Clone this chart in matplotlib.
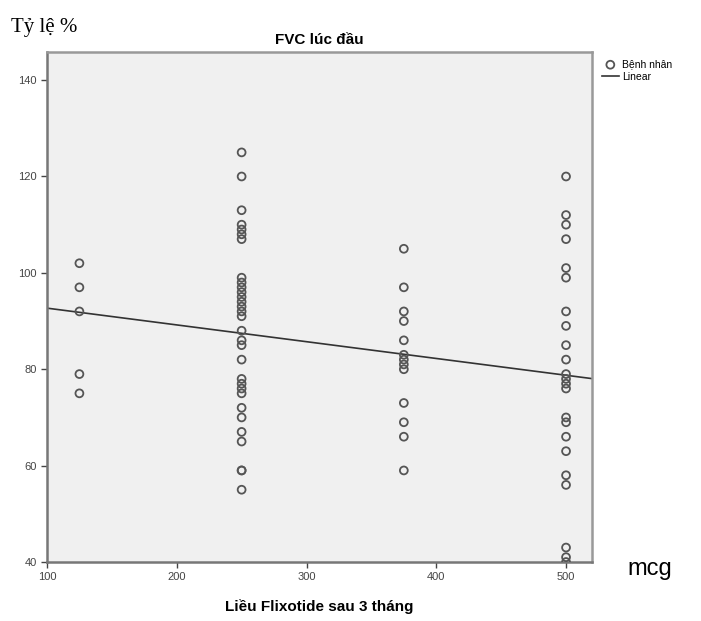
import matplotlib
matplotlib.use("Agg")
import matplotlib.pyplot as plt
import numpy as np

plt.rcParams["font.family"] = ["Liberation Sans", "DejaVu Sans"]

dose_125 = [102, 97, 92, 79, 75]
dose_250 = [125, 120, 113, 110, 109, 108, 107, 99, 98, 97, 96, 95, 94, 93, 92, 91,
            88, 86, 85, 82, 78, 77, 76, 75, 72, 70, 67, 65, 59, 59, 55]
dose_375 = [105, 97, 92, 90, 86, 83, 82, 81, 80, 73, 69, 66, 59]
dose_500 = [120, 112, 110, 107, 101, 99, 92, 89, 85, 82, 79, 78, 77, 76, 70, 69,
            66, 63, 58, 56, 43, 41, 40]

groups = {125: dose_125, 250: dose_250, 375: dose_375, 500: dose_500}
x = np.concatenate([[k] * len(v) for k, v in groups.items()]).astype(float)
y = np.concatenate([v for v in groups.values()]).astype(float)

xticks = [100, 200, 300, 400, 500]
yticks = [40, 60, 80, 100, 120, 140]

fig = plt.figure(figsize=(7.01, 6.21), dpi=100)
ax = fig.add_axes([0.067, 0.095, 0.7775, 0.821])
ax.set_facecolor("#f0f0f0")

ax.scatter(x, y, s=32, facecolors="none", edgecolors="#555555", linewidths=1.3,
           label="Bệnh nhân", zorder=3)
slope, intercept = np.polyfit(x, y, 1)
xl = np.array([100, 520])
ax.plot(xl, slope * xl + intercept, color="#333333", lw=1.2, label="Linear", zorder=2)

ax.set_xlim(100, 520)
ax.set_ylim(40, 145.8)
ax.set_xticks(xticks)
ax.set_yticks(yticks)
ax.tick_params(labelsize=8, colors="#444444", length=4, width=1)
for s in ["top", "right"]:
    ax.spines[s].set_color("#999999")
    ax.spines[s].set_linewidth(1.8)
for s in ["left", "bottom"]:
    ax.spines[s].set_color("#777777")
    ax.spines[s].set_linewidth(1.8)

ax.set_title("FVC lúc đầu", fontsize=11, fontweight="bold", pad=6)
ax.set_xlabel("Liều Flixotide sau 3 tháng", fontsize=11, fontweight="bold", labelpad=12)
fig.text(0.015, 0.955, "Tỷ lệ %", fontsize=15, family="Liberation Serif", ha="left", va="center")
fig.text(0.895, 0.083, "mcg", fontsize=17, ha="left", va="center")

ax.legend(loc="upper left", bbox_to_anchor=(1.005, 1.0), frameon=False, fontsize=7.5,
          handlelength=1.6, handletextpad=0.3, borderpad=0.2, labelspacing=0.2)

fig.savefig("out.png", dpi=100)
